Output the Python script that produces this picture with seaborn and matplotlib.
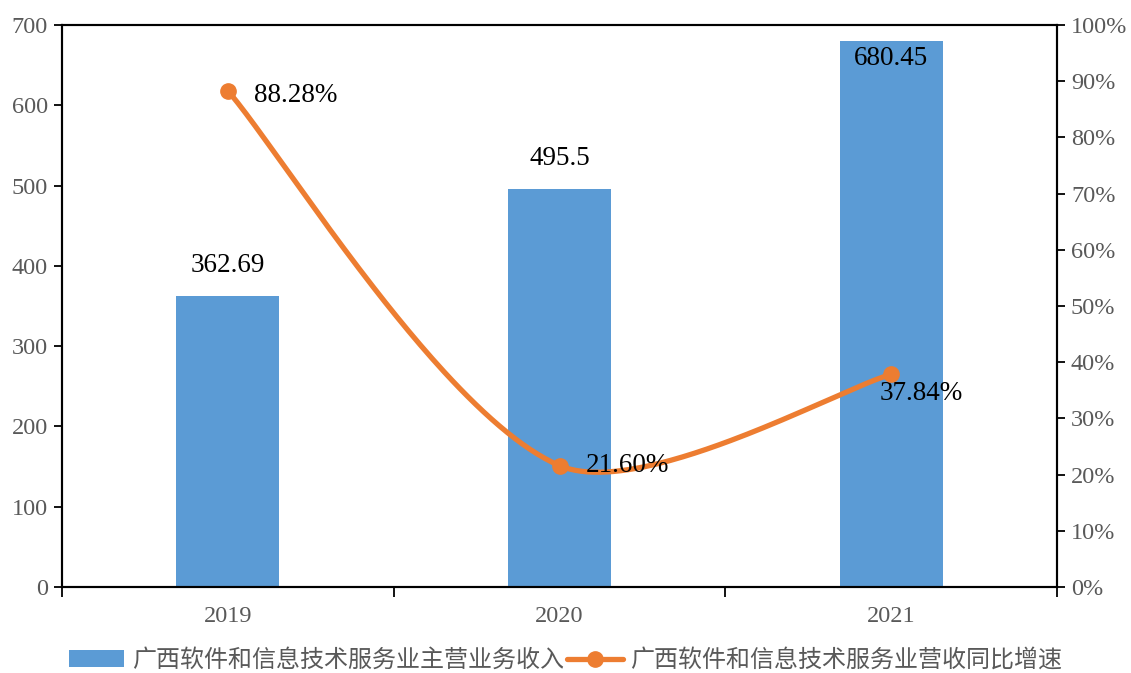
import numpy as np
import pandas as pd
import matplotlib
matplotlib.use("Agg")
import matplotlib.pyplot as plt
from matplotlib.lines import Line2D
from matplotlib.patches import Patch
import seaborn as sns

years = ["2019", "2020", "2021"]
revenue = [362.69, 495.5, 680.45]
growth = [88.28, 21.60, 37.84]
revenue_labels = ["362.69", "495.5", "680.45"]
growth_labels = ["88.28%", "21.60%", "37.84%"]
bar_name = "广西软件和信息技术服务业主营业务收入"
line_name = "广西软件和信息技术服务业营收同比增速"
left_ticks = [0, 100, 200, 300, 400, 500, 600, 700]
right_ticks = [0, 10, 20, 30, 40, 50, 60, 70, 80, 90, 100]

sns.set_theme(style="white")
plt.rcParams['font.family'] = ['Liberation Serif', 'Noto Sans CJK SC', 'DejaVu Sans']

BLUE = "#5B9BD5"
ORANGE = "#ED7D31"
GRAY = "#595959"
TICK_FS = 17.5
LABEL_FS = 19.5

fig = plt.figure(figsize=(11.31, 6.73), dpi=100)
ax = fig.add_axes([62/1131, 1-587/673, (1057-62)/1131, (587-25)/673])

df = pd.DataFrame({"year": years, "revenue": revenue})
sns.barplot(data=df, x="year", y="revenue", color=BLUE, width=0.31, ax=ax,
            saturation=1, edgecolor="none")
ax.set_xlim(-0.5, 2.5)
ax.set_ylim(0, 700)
ax.set_yticks(left_ticks)
ax.set_xlabel("")
ax.set_ylabel("")
ax.set_xticks([0, 1, 2])
ax.set_xticks([-0.5, 0.5, 1.5, 2.5], minor=True)
ax.tick_params(axis="x", which="major", length=0, pad=14, labelsize=TICK_FS, labelcolor=GRAY)
ax.tick_params(axis="x", which="minor", length=7, width=1.3, direction="out", color="black", bottom=True)
ax.tick_params(axis="y", length=6, width=1.3, direction="out", color="black", left=True,
               labelsize=TICK_FS, labelcolor=GRAY, pad=4)
for s in ax.spines.values():
    s.set_visible(True)
    s.set_color("black")
    s.set_linewidth(1.5)

# bar labels
for i, (v, lab) in enumerate(zip(revenue, revenue_labels)):
    dy = -13 if v >= 650 else 22
    ax.annotate(lab, (i, v), xytext=(0, dy), textcoords="offset points",
                ha="center", va="center", fontsize=LABEL_FS, color="black")

ax2 = ax.twinx()
ax2.set_ylim(0, 100)
ax2.set_yticks(right_ticks)
ax2.set_yticklabels([f"{t}%" for t in right_ticks])
ax2.tick_params(axis="y", length=6, width=1.3, direction="out", color="black", right=True,
                labelsize=TICK_FS, labelcolor=GRAY, pad=4)
for s in ax2.spines.values():
    s.set_visible(True)
    s.set_color("black")
    s.set_linewidth(1.5)

# smoothed line: cubic Bezier, tangents weighted by chord length (in screen units)
sx, sy = 332.0, 5.62  # pixels per category / per percent
xs = np.arange(len(growth), dtype=float)
ys = np.array(growth, dtype=float)
P = np.column_stack([xs * sx, ys * sy])
n = len(P)
k = 0.15
cx, cy = [], []
for i in range(n - 1):
    p1, p2 = P[i], P[i + 1]
    d12 = np.linalg.norm(p2 - p1)
    if i == 0:
        c1 = p1 + (p2 - p1) * k
    else:
        d01 = np.linalg.norm(p1 - P[i - 1])
        c1 = p1 + (p2 - P[i - 1]) * k * 2 * d12 / (d01 + d12)
    if i + 1 == n - 1:
        c2 = p2 - (p2 - p1) * k
    else:
        d23 = np.linalg.norm(P[i + 2] - p2)
        c2 = p2 - (P[i + 2] - p1) * k * 2 * d12 / (d12 + d23)
    t = np.linspace(0, 1, 100)[:, None]
    pts = (1 - t) ** 3 * p1 + 3 * (1 - t) ** 2 * t * c1 + 3 * (1 - t) * t ** 2 * c2 + t ** 3 * p2
    cx.extend(pts[:, 0] / sx); cy.extend(pts[:, 1] / sy)
curve = pd.DataFrame({"x": cx, "y": cy})
sns.lineplot(data=curve, x="x", y="y", ax=ax2, color=ORANGE, linewidth=3.8, sort=False,
             estimator=None)
pts = pd.DataFrame({"x": xs, "y": ys})
ax2.plot(pts["x"], pts["y"], linestyle="none", marker="o", markersize=11, color=ORANGE, zorder=5)
ax2.set_xlabel("")
ax2.set_ylabel("")

offsets = [(19, -3), (19, 0), (-8, -14)]
for i, (v, lab) in enumerate(zip(growth, growth_labels)):
    ax2.annotate(lab, (i, v), xytext=offsets[i], textcoords="offset points",
                 ha="left", va="center", fontsize=LABEL_FS, color="black")

handles = [Patch(facecolor=BLUE, edgecolor="none"),
           Line2D([0], [0], color=ORANGE, linewidth=3.8, marker="o", markersize=11)]
leg = fig.legend(handles, [bar_name, line_name], loc="center", bbox_to_anchor=(0.5, 1 - 660/673),
                 ncol=2, frameon=False, fontsize=17.3, handlelength=2.3, columnspacing=0.15,
                 handletextpad=0.3, labelcolor=GRAY)
for t in leg.get_texts():
    t.set_fontfamily(['Noto Sans CJK SC', 'DejaVu Sans'])

fig.savefig("out.png", dpi=100)
